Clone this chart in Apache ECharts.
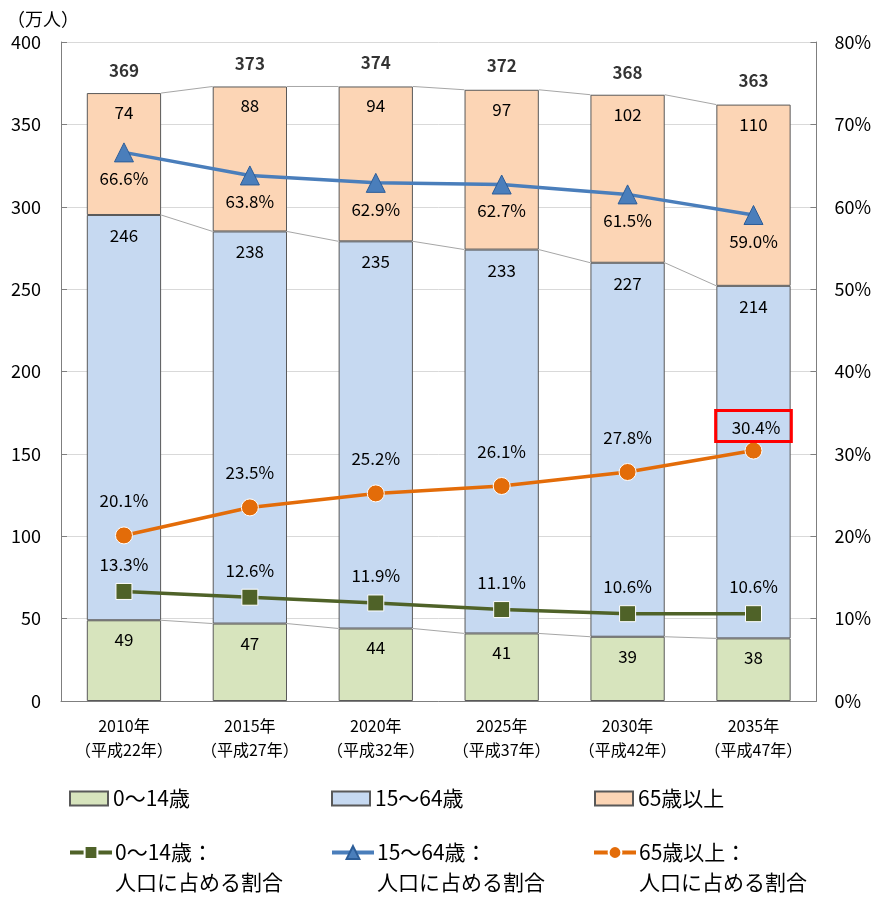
<!DOCTYPE html>
<html><head><meta charset="utf-8">
<script src="https://cdn.jsdelivr.net/npm/echarts@6/dist/echarts.min.js"></script>
<style>html,body{margin:0;padding:0;background:#fff}#c{width:874px;height:899px}</style>
</head><body><div id="c"></div>
<script>
const categories = ['2010年\n（平成22年）','2015年\n（平成27年）','2020年\n（平成32年）','2025年\n（平成37年）','2030年\n（平成42年）','2035年\n（平成47年）'];
const pop0to14 = [49,47,44,41,39,38];
const pop15to64 = [246,238,235,233,227,214];
const pop65plus = [74,88,94,97,102,110];
const totals = [369,373,374,372,368,363];
const ratio0to14 = [13.3,12.6,11.9,11.1,10.6,10.6];
const ratio15to64 = [66.6,63.8,62.9,62.7,61.5,59.0];
const ratio65plus = [20.1,23.5,25.2,26.1,27.8,30.4];
const leftTicks = [0,50,100,150,200,250,300,350,400];
const rightTicks = [0,10,20,30,40,50,60,70,80];

const FONT = '"Noto Sans CJK JP", sans-serif';
const BAR_W = 0.59;
const chart = echarts.init(document.getElementById('c'));

const cum1 = pop0to14;
const cum2 = pop0to14.map((v,i)=>v+pop15to64[i]);
const cum3 = cum2.map((v,i)=>v+pop65plus[i]);
const connData = categories.map((c,i)=>[i, cum1[i], cum2[i], cum3[i]]);

const labelBase = {fontFamily: FONT, fontSize: 17, color: '#000'};

function lineLegend(name, left) {
  return {
    data: [name], left: left, top: 812, itemWidth: 42, itemHeight: 16, itemGap: 0, padding: 0,
    lineStyle: {width: 4},
    formatter: function(n){ const p = n.split('：'); return '{e| }\n{t|' + p[0] + '：}\n{t|' + p[1] + '}'; },
    textStyle: {fontFamily: FONT, fontSize: 21, color: '#000', padding:[0,0,0,-2],
      rich: {e:{fontSize:21,lineHeight:30}, t:{fontFamily: FONT, fontSize:21, lineHeight:30, color:'#000'}}}
  };
}
function barLegend(name, left) {
  return {
    data: [name], left: left, top: 788, icon: 'rect', itemWidth: 38, itemHeight: 14, itemGap: 0, padding: 0,
    textStyle: {fontFamily: FONT, fontSize: 21, color: '#000', padding:[0,0,0,0]}
  };
}

const option = {
  animation: false,
  backgroundColor: '#fff',
  title: {text: '（万人）', left: 2, top: 5, textStyle: {fontFamily: FONT, fontSize: 18, fontWeight: 'normal', color: '#000'}},
  grid: {left: 61, right: 57, top: 42, bottom: 198},
  legend: [
    barLegend('0～14歳', 69), barLegend('15～64歳', 331), barLegend('65歳以上', 594),
    lineLegend('0～14歳：人口に占める割合', 68), lineLegend('15～64歳：人口に占める割合', 330), lineLegend('65歳以上：人口に占める割合', 592)
  ],
  xAxis: {
    type: 'category', data: categories,
    axisLine: {lineStyle: {color: '#7f7f7f', width: 1}},
    axisTick: {inside: true, length: 5, lineStyle: {color: '#7f7f7f'}},
    axisLabel: {interval: 0, fontFamily: FONT, fontSize: 16, color: '#000', lineHeight: 24, margin: 13}
  },
  yAxis: [
    {type: 'value', min: 0, max: 400, interval: 50,
      axisLine: {show: true, lineStyle: {color: '#7f7f7f'}},
      axisTick: {show: true, inside: true, length: 6, lineStyle: {color: '#7f7f7f'}},
      axisLabel: {fontFamily: FONT, fontSize: 18, color: '#000', margin: 20, formatter: v => leftTicks.includes(v) ? String(v) : ''},
      splitLine: {lineStyle: {color: '#d9d9d9'}}},
    {type: 'value', min: 0, max: 80, interval: 10,
      axisLine: {show: true, lineStyle: {color: '#7f7f7f'}},
      axisTick: {show: true, inside: true, length: 6, lineStyle: {color: '#7f7f7f'}},
      axisLabel: {fontFamily: FONT, fontSize: 18, color: '#000', margin: 18, formatter: v => rightTicks.includes(v) ? v + '%' : ''},
      splitLine: {show: false}}
  ],
  series: [
    {name: '0～14歳', type: 'bar', stack: 'p', data: pop0to14, barWidth: (BAR_W*100)+'%',
      itemStyle: {color: '#d7e4bd', borderColor: '#595959', borderWidth: 1},
      label: Object.assign({show: true, position: 'insideTop', distance: 11}, labelBase)},
    {name: '15～64歳', type: 'bar', stack: 'p', data: pop15to64,
      itemStyle: {color: '#c6d9f1', borderColor: '#595959', borderWidth: 1},
      label: Object.assign({show: true, position: 'insideTop', distance: 12}, labelBase)},
    {name: '65歳以上', type: 'bar', stack: 'p', data: pop65plus,
      itemStyle: {color: '#fcd5b5', borderColor: '#595959', borderWidth: 1},
      label: Object.assign({show: true, position: 'insideTop', distance: 11}, labelBase)},
    {name: 'conn', type: 'custom', data: connData, z: 1, silent: true,
      renderItem: function(params, api) {
        const i = params.dataIndex;
        if (i >= connData.length - 1) return null;
        const half = api.size([1, 0])[0] * BAR_W / 2;
        const children = [];
        for (let k = 1; k <= 3; k++) {
          const a = api.coord([i, connData[i][k]]);
          const b = api.coord([i + 1, connData[i + 1][k]]);
          children.push({type: 'line', shape: {x1: a[0] + half, y1: a[1], x2: b[0] - half, y2: b[1]},
            style: {stroke: '#a6a6a6', lineWidth: 1}});
        }
        return {type: 'group', children: children};
      }},
    {name: 'total', type: 'scatter', data: totals, symbolSize: 0, silent: true,
      label: {show: true, position: 'top', distance: 14, fontFamily: FONT, fontSize: 17, fontWeight: 'bold', color: '#000'}},
    {name: '0～14歳：人口に占める割合', type: 'line', yAxisIndex: 1, data: ratio0to14,
      symbol: 'rect', symbolSize: 16, z: 5,
      lineStyle: {color: '#4f6228', width: 3.5}, itemStyle: {color: '#4f6228', borderColor: '#fff', borderWidth: 1},
      label: Object.assign({show: true, position: 'top', distance: 10, formatter: p => p.value.toFixed(1) + '%'}, labelBase)},
    {name: '15～64歳：人口に占める割合', type: 'line', yAxisIndex: 1, data: ratio15to64,
      symbol: 'triangle', symbolSize: 19, z: 5,
      lineStyle: {color: '#4a7ebb', width: 3.5}, itemStyle: {color: '#4a7ebb', borderColor: '#2c5d98', borderWidth: 1},
      label: Object.assign({show: true, position: 'bottom', distance: 8, formatter: p => p.value.toFixed(1) + '%'}, labelBase)},
    {name: '65歳以上：人口に占める割合', type: 'line', yAxisIndex: 1,
      data: ratio65plus.map((v, i) => i === ratio65plus.length - 1
        ? {value: v, label: {borderColor: '#ff0000', borderWidth: 3, padding: [8, 11, 6, 16], distance: 0}}
        : v),
      symbol: 'circle', symbolSize: 17, z: 5,
      lineStyle: {color: '#e36c09', width: 3.5}, itemStyle: {color: '#e36c09', borderColor: '#fff', borderWidth: 1},
      label: Object.assign({show: true, position: 'top', distance: 17, formatter: p => p.value.toFixed(1) + '%'}, labelBase)}
  ]
};
chart.setOption(option);
</script></body></html>
